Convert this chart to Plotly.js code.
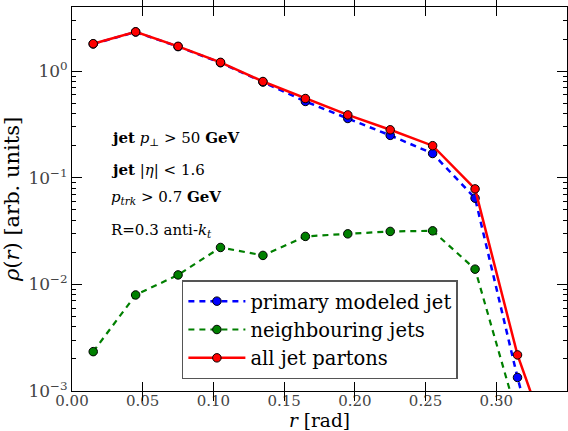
<!DOCTYPE html>
<html>
<head>
<meta charset="utf-8">
<script src="https://cdn.plot.ly/plotly-3.0.1.min.js"></script>
<style>html,body{margin:0;padding:0;background:#fff;}#chart{width:568px;height:431px;}</style>
</head>
<body>
<div id="chart"></div>
<script>
// r bin centres [rad]
const r = [0.015, 0.045, 0.075, 0.105, 0.135, 0.165, 0.195, 0.225, 0.255, 0.285, 0.315, 0.345];
// rho(r) per component
const primaryJet = [1.80, 2.33, 1.70, 1.20, 0.79, 0.52, 0.36, 0.25, 0.169, 0.0644, 0.00134, 0.00004];
const neighbourJets = [0.00234, 0.00796, 0.01227, 0.0222, 0.0187, 0.0282, 0.0298, 0.0314, 0.0318, 0.0139, 0.00057, 0.00001];
const allPartons = [1.81, 2.34, 1.71, 1.21, 0.80, 0.554, 0.389, 0.282, 0.200, 0.0787, 0.00218, 0.000165];
const seriesNames = ["primary modeled jet", "neighbouring jets", "all jet partons"];
const yTickVals = [0.001, 0.01, 0.1, 1];
const yTickText = ["10<sup>−3</sup>", "10<sup>−2</sup>", "10<sup>−1</sup>", "10<sup>0</sup>"];
const minorMantissas = [2, 3, 4, 5, 6, 7, 8, 9];
const minorDecades = [0.001, 0.01, 0.1, 1];
const notes = [
  "<b>jet</b> <i>p</i><sub>⊥</sub> > 50 <b>GeV</b>",
  "<b>jet</b> |<i>η</i>| < 1.6",
  "<i>p<sub>trk</sub></i> > 0.7 <b>GeV</b>",
  "R=0.3 anti-<i>k<sub>t</sub></i>"
];

const minorVals = [];
minorDecades.forEach(d => minorMantissas.forEach(m => minorVals.push(m * d)));

const FONT = "'DejaVu Serif', 'Liberation Serif', serif";
const mk = (c) => ({size: 8.5, color: c, line: {color: '#000', width: 1}});

const traces = [
  {x: r, y: primaryJet, name: seriesNames[0], mode: 'lines+markers',
   line: {color: '#0000ff', width: 2.5, dash: '6px,5px'}, marker: mk('#0000ff')},
  {x: r, y: neighbourJets, name: seriesNames[1], mode: 'lines+markers',
   line: {color: '#007f00', width: 2.2, dash: '6px,5px'}, marker: mk('#007f00')},
  {x: r, y: allPartons, name: seriesNames[2], mode: 'lines+markers',
   line: {color: '#ff0000', width: 2.5}, marker: mk('#ff0000')},
  {x: [], y: [], yaxis: 'y2', showlegend: false, hoverinfo: 'skip', mode: 'markers'}
];

const noteY = [0.658, 0.575, 0.503, 0.419];
const annotations = notes.map((t, i) => ({
  text: t, xref: 'paper', yref: 'paper', x: 0.074, y: noteY[i],
  xanchor: 'left', yanchor: 'middle', showarrow: false,
  font: {family: FONT, size: 15, color: '#000'}
}));

const layout = {
  width: 568, height: 431,
  margin: {l: 72, r: 1, t: 7, b: 40},
  paper_bgcolor: '#fff', plot_bgcolor: '#fff',
  font: {family: FONT, color: '#000'},
  showlegend: true,
  legend: {x: 0.222, y: 0.03, xanchor: 'left', yanchor: 'bottom',
    bgcolor: '#fff', bordercolor: '#555', borderwidth: 1.5,
    font: {family: FONT, size: 19.5, color: '#000'}, tracegroupgap: 0, itemwidth: 57},
  xaxis: {
    range: [0, 0.35], dtick: 0.05, tick0: 0, tickformat: '.2f',
    ticks: 'inside', ticklen: 9, tickwidth: 1, tickcolor: '#000',
    showline: true, linecolor: '#000', linewidth: 1, mirror: 'allticks',
    showgrid: false, zeroline: false, ticklabelstandoff: -4,
    tickfont: {family: FONT, size: 15, color: '#444'},
    title: {text: '<i>r</i> [rad]', font: {family: FONT, size: 18.5, color: '#000'}, standoff: 3}
  },
  yaxis: {
    type: 'log', range: [-3, Math.log10(4)],
    tickmode: 'array', tickvals: yTickVals, ticktext: yTickText,
    ticks: 'inside', ticklen: 10, tickwidth: 1, tickcolor: '#000',
    showline: true, linecolor: '#000', linewidth: 1, mirror: 'allticks',
    showgrid: false, zeroline: false,
    tickfont: {family: FONT, size: 17, color: '#444'},
    title: {text: '<i>ρ</i>(<i>r</i>) [arb. units]', font: {family: FONT, size: 21, color: '#000'}, standoff: 6}
  },
  yaxis2: {
    type: 'log', range: [-3, Math.log10(4)], overlaying: 'y', side: 'left',
    tickmode: 'array', tickvals: minorVals, showticklabels: false,
    ticks: 'inside', ticklen: 4, tickwidth: 1, tickcolor: '#000',
    showline: true, linecolor: '#000', linewidth: 1, mirror: 'allticks',
    showgrid: false, zeroline: false
  },
  annotations: annotations
};

Plotly.newPlot('chart', traces, layout, {displayModeBar: false, staticPlot: true});
</script>
</body>
</html>
